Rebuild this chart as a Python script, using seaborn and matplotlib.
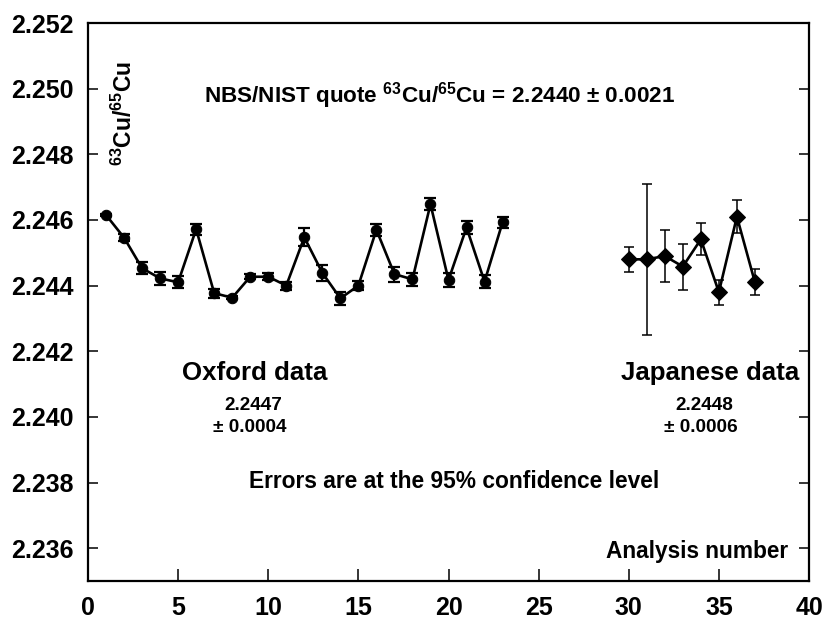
import numpy as np
import matplotlib
matplotlib.use('Agg')
import matplotlib.pyplot as plt
import seaborn as sns

# ─── DATA ────────────────────────────────────────────────────────────────────
oxford_x = list(range(1, 24))
oxford_y = [2.24615, 2.24546, 2.24453, 2.24422, 2.24410, 2.24572, 2.24377, 2.24363,
            2.24427, 2.24427, 2.24400, 2.24547, 2.24439, 2.24361, 2.24400, 2.24570,
            2.24435, 2.24419, 2.24648, 2.24417, 2.24577, 2.24412, 2.24593]
oxford_err = [0.00003, 0.00010, 0.00018, 0.00020, 0.00018, 0.00017, 0.00014, 0.00005,
              0.00008, 0.00010, 0.00012, 0.00027, 0.00025, 0.00020, 0.00014, 0.00018,
              0.00023, 0.00019, 0.00019, 0.00022, 0.00020, 0.00019, 0.00017]

japan_x = list(range(30, 38))
japan_y = [2.2448, 2.2448, 2.2449, 2.24458, 2.24541, 2.24380, 2.24610, 2.24410]
japan_err = [0.00039, 0.00230, 0.00080, 0.00070, 0.00049, 0.00038, 0.00050, 0.00040]

x_ticks = [0, 5, 10, 15, 20, 25, 30, 35, 40]
y_ticks = [2.236, 2.238, 2.240, 2.242, 2.244, 2.246, 2.248, 2.250, 2.252]

# ─── STYLE ───────────────────────────────────────────────────────────────────
sns.set_theme(style='ticks')
plt.rcParams['font.family'] = ['Liberation Sans', 'DejaVu Sans']
plt.rcParams['font.weight'] = 'bold'
plt.rcParams['text.color'] = 'black'
plt.rcParams['mathtext.fontset'] = 'custom'
plt.rcParams['mathtext.rm'] = 'Liberation Sans:bold'
plt.rcParams['mathtext.bf'] = 'Liberation Sans:bold'
plt.rcParams['mathtext.default'] = 'rm'

fig = plt.figure(figsize=(8.23, 6.21), dpi=100)
ax = fig.add_axes([88 / 823, 1 - 581 / 621, (809 - 88) / 823, (581 - 23) / 621])

# ─── OXFORD ──────────────────────────────────────────────────────────────────
sns.lineplot(x=oxford_x, y=oxford_y, ax=ax, color='black', linewidth=1.9,
             marker='o', markersize=7.5, markeredgecolor='black')
ax.errorbar(oxford_x, oxford_y, yerr=oxford_err, fmt='none', ecolor='black',
            elinewidth=1.6, capsize=4.5, capthick=1.6)

# ─── JAPANESE ────────────────────────────────────────────────────────────────
sns.lineplot(x=japan_x, y=japan_y, ax=ax, color='black', linewidth=1.9,
             marker='D', markersize=8.5, markeredgecolor='black')
ax.errorbar(japan_x, japan_y, yerr=japan_err, fmt='none', ecolor='black',
            elinewidth=1.1, capsize=3.5, capthick=1.1)

# ─── AXES ────────────────────────────────────────────────────────────────────
ax.set_xlim(0, 40)
ax.set_ylim(2.235, 2.252)
ax.set_xticks(x_ticks)
ax.set_yticks(y_ticks)
ax.set_xticklabels([str(t) for t in x_ticks])
ax.set_yticklabels([f'{t:.3f}' for t in y_ticks])
ax.tick_params(axis='y', direction='in', length=7, width=1.1, left=True, right=True,
               labelsize=18, pad=10, colors='black')
ax.tick_params(axis='x', direction='in', length=8.5, width=1.1, bottom=True, top=False,
               labelsize=18, pad=11, colors='black')
for lab in ax.get_xticklabels() + ax.get_yticklabels():
    lab.set_fontweight('bold')
for s in ax.spines.values():
    s.set_visible(True)
    s.set_linewidth(1.6)
    s.set_color('black')
ax.set_xlabel('')
ax.set_ylabel('')

# ─── TEXT ────────────────────────────────────────────────────────────────────
ax.text(2.0, 2.24926, r'$^{63}$Cu/$^{65}$Cu', rotation=90, ha='center', va='center',
        fontsize=16.5, fontweight='bold', color='black')
ax.text(19.5, 2.24957, r'NBS/NIST quote $^{63}$Cu/$^{65}$Cu = 2.2440 ± 0.0021',
        ha='center', va='baseline', fontsize=16.2, fontweight='bold', color='black')
ax.text(9.26, 2.24112, 'Oxford data', ha='center', va='baseline', fontsize=18.6,
        fontweight='bold', color='black')
ax.text(9.15, 2.24021, '2.2447', ha='center', va='baseline', fontsize=13.7,
        fontweight='bold', color='black')
ax.text(9.0, 2.23954, '± 0.0004', ha='center', va='baseline', fontsize=13.7,
        fontweight='bold', color='black')
ax.text(20.3, 2.23783, 'Errors are at the 95% confidence level', ha='center', va='baseline',
        fontsize=16.4, fontweight='bold', color='black')
ax.text(34.5, 2.24112, 'Japanese data', ha='center', va='baseline', fontsize=18.6,
        fontweight='bold', color='black')
ax.text(34.2, 2.24021, '2.2448', ha='center', va='baseline', fontsize=13.7,
        fontweight='bold', color='black')
ax.text(34.0, 2.23954, '± 0.0006', ha='center', va='baseline', fontsize=13.7,
        fontweight='bold', color='black')
ax.text(33.8, 2.2357, 'Analysis number', ha='center', va='baseline', fontsize=16.3,
        fontweight='bold', color='black')

fig.savefig('out.png', dpi=100, facecolor='white')
